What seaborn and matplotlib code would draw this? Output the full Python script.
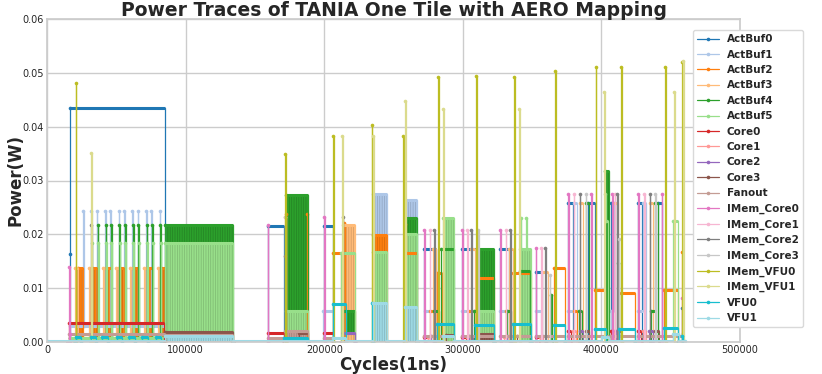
import numpy as np
import pandas as pd
import matplotlib
matplotlib.use("Agg")
import matplotlib.pyplot as plt
import seaborn as sns

# ---------------- data (cycle, power) change points, step-post ----------------
series_names = ["ActBuf0", "ActBuf1", "ActBuf2", "ActBuf3", "ActBuf4", "ActBuf5",
                "Core0", "Core1", "Core2", "Core3", "Fanout",
                "IMem_Core0", "IMem_Core1", "IMem_Core2", "IMem_Core3",
                "IMem_VFU0", "IMem_VFU1", "VFU0", "VFU1"]

actbuf0_trace = [(15300, 0), (16300, 0.0164), (16900, 0.0434), (85200, 0),
                 (159200, 0.0216), (171200, 0), (200100, 0.0216), (206600, 0),
                 (272300, 0.0173), (280800, 0), (299500, 0.0173), (309700, 0),
                 (326500, 0.0173), (333000, 0), (352500, 0.0130), (357000, 0),
                 (375900, 0.0259), (379500, 0), (390500, 0.0259), (395200, 0),
                 (407200, 0.0259), (410000, 0), (426500, 0.0259), (429500, 0),
                 (440500, 0.0259), (444000, 0), (458300, 0.0064), (458800, 0)]
actbuf0_blocks = []

actbuf1_trace = [(15800, 0), (16300, 0.0029), (26200, 0.0243), (26700, 0.0029),
                 (32000, 0.0243), (32500, 0.0029), (35800, 0.0243), (36300, 0.0029),
                 (41800, 0.0243), (42300, 0.0029), (45700, 0.0243), (46200, 0.0029),
                 (51700, 0.0243), (52200, 0.0029), (55600, 0.0243), (56100, 0.0029),
                 (61600, 0.0243), (62100, 0.0029), (65500, 0.0243), (66000, 0.0029),
                 (71500, 0.0243), (72000, 0.0029), (75300, 0.0243), (75800, 0.0029),
                 (81300, 0.0243), (81800, 0.0029), (85200, 0),
                 (199400, 0.0058), (206600, 0), (235000, 0.0275), (245400, 0),
                 (258600, 0.0263), (266800, 0), (272800, 0.0058), (278300, 0),
                 (299500, 0.0057), (303600, 0), (326500, 0.0057), (331500, 0),
                 (352500, 0.0057), (356600, 0), (375900, 0.0057), (380000, 0.0259),
                 (382500, 0), (407200, 0.0057), (409000, 0.0259), (411000, 0),
                 (426500, 0.0057), (430000, 0.0259), (432500, 0)]
actbuf1_blocks = [(235000, 245400, 0.0, 0.0275), (258600, 266800, 0.0, 0.0263)]

actbuf2_trace = [(20000, 0), (22300, 0.0137), (26200, 0.0008), (32700, 0.0137), (36300, 0.0008),
                 (42300, 0.0137), (45900, 0.0008), (52200, 0.0137), (55800, 0.0008),
                 (62100, 0.0137), (65700, 0.0008), (72000, 0.0137), (75600, 0.0008),
                 (81900, 0.0137), (85200, 0),
                 (172200, 0.0238), (172700, 0), (187500, 0.0238), (188000, 0),
                 (206000, 0.0165), (212000, 0), (214500, 0.0221), (215000, 0),
                 (235000, 0.0198), (245400, 0), (258600, 0.0220), (259300, 0.0165), (266800, 0),
                 (276000, 0.0058), (279000, 0), (281200, 0.0128), (285100, 0),
                 (303600, 0.0057), (306000, 0), (310800, 0.0119), (322400, 0),
                 (331500, 0.0057), (334000, 0), (336100, 0.0128), (349400, 0),
                 (365800, 0.0137), (374000, 0), (380000, 0.0057), (382500, 0),
                 (395200, 0.0096), (402400, 0), (414400, 0.0091), (424000, 0),
                 (445200, 0.0096), (455400, 0), (458300, 0.0168), (458800, 0)]
actbuf2_blocks = [(22300, 26200, 0.0008, 0.0137), (32700, 36300, 0.0008, 0.0137),
                  (42300, 45900, 0.0008, 0.0137), (52200, 55800, 0.0008, 0.0137),
                  (62100, 65700, 0.0008, 0.0137), (72000, 75600, 0.0008, 0.0137),
                  (81900, 85200, 0.0008, 0.0137), (235000, 245400, 0.0, 0.0198)]

actbuf3_trace = [(20000, 0), (20400, 0.0137), (22300, 0.0008), (30300, 0.0137), (32700, 0.0008),
                 (40200, 0.0137), (42300, 0.0008), (50100, 0.0137), (52200, 0.0008),
                 (60000, 0.0137), (62100, 0.0008), (69900, 0.0137), (72000, 0.0008),
                 (79800, 0.0137), (81900, 0.0008), (85200, 0),
                 (171600, 0.0233), (172100, 0), (213300, 0.0218), (222500, 0),
                 (278300, 0.0173), (281000, 0), (306000, 0.0173), (309000, 0),
                 (333000, 0.0173), (336000, 0), (357000, 0.0130), (361500, 0),
                 (384300, 0.0259), (386500, 0), (410000, 0.0259), (412000, 0),
                 (434900, 0.0259), (437000, 0)]
actbuf3_blocks = [(20400, 22300, 0.0008, 0.0137), (30300, 32700, 0.0008, 0.0137),
                  (40200, 42300, 0.0008, 0.0137), (50100, 52200, 0.0008, 0.0137),
                  (60000, 62100, 0.0008, 0.0137), (69900, 72000, 0.0008, 0.0137),
                  (79800, 81900, 0.0008, 0.0137), (213300, 222500, 0.0, 0.0218)]

actbuf4_trace = [(16000, 0), (16300, 0.0008), (36500, 0.0217), (37000, 0.0008),
                 (42300, 0.0217), (42800, 0.0008), (46200, 0.0217), (46700, 0.0008),
                 (52200, 0.0217), (52700, 0.0008), (56300, 0.0217), (56800, 0.0008),
                 (62100, 0.0217), (62600, 0.0008), (66000, 0.0217), (66500, 0.0008),
                 (72000, 0.0217), (72500, 0.0008), (76000, 0.0217), (76500, 0.0008),
                 (81800, 0.0217), (82300, 0.0008), (85200, 0.0217), (133900, 0),
                 (172300, 0.0273), (188000, 0), (213300, 0.0058), (222500, 0),
                 (258600, 0.0230), (266800, 0), (279000, 0.0058), (283000, 0),
                 (284000, 0.0173), (293500, 0), (308000, 0.0057), (310800, 0.0173),
                 (322400, 0), (332000, 0.0057), (335000, 0), (341500, 0.0132), (348500, 0),
                 (363500, 0.0087), (364000, 0), (384000, 0.0057), (386000, 0),
                 (388700, 0.0259), (391000, 0), (402400, 0.0317), (405300, 0),
                 (412000, 0.0147), (412500, 0), (436000, 0.0057), (439000, 0.0259), (441000, 0)]
actbuf4_blocks = [(85200, 133900, 0.0019, 0.0217), (172300, 188000, 0.0055, 0.0273),
                  (213300, 222500, 0.0015, 0.0058), (258600, 266800, 0.0, 0.0230),
                  (310800, 322400, 0.0015, 0.0173), (341500, 348500, 0.0, 0.0132),
                  (402400, 405300, 0.0, 0.0317)]

actbuf5_trace = [(16000, 0), (16300, 0.0008), (32200, 0.0183), (32700, 0.0008),
                 (36700, 0.0183), (37200, 0.0008), (42500, 0.0183), (43000, 0.0008),
                 (46400, 0.0183), (46900, 0.0008), (52400, 0.0183), (52900, 0.0008),
                 (56500, 0.0183), (57000, 0.0008), (62300, 0.0183), (62800, 0.0008),
                 (66200, 0.0183), (66700, 0.0008), (72200, 0.0183), (72700, 0.0008),
                 (76200, 0.0183), (76700, 0.0008), (82000, 0.0183), (82500, 0.0008),
                 (85200, 0.0183), (133900, 0), (172300, 0.0058), (188000, 0),
                 (212000, 0.0165), (222500, 0), (235000, 0.0167), (245400, 0),
                 (258600, 0.0201), (266800, 0), (285600, 0.0231), (293500, 0),
                 (310800, 0.0057), (322400, 0), (341000, 0.0173), (341800, 0.0231),
                 (342300, 0.0173), (345800, 0.0231), (346300, 0.0173), (349400, 0),
                 (402600, 0.0275), (403100, 0.0224), (405000, 0), (451700, 0.0224), (455400, 0)]
actbuf5_blocks = [(85200, 133900, 0.0019, 0.0183), (172300, 188000, 0.0008, 0.0058),
                  (235000, 245400, 0.0, 0.0167), (258600, 266800, 0.0, 0.0201),
                  (285600, 293500, 0.0, 0.0231), (310800, 322400, 0.0, 0.0057),
                  (341000, 349400, 0.0, 0.0173)]

core0_trace = [(15300, 0), (15800, 0.0035), (84500, 0), (159200, 0.0017), (171200, 0),
               (200100, 0.0017), (206000, 0), (272300, 0.0010), (275000, 0),
               (299500, 0.0010), (302000, 0), (352500, 0.0010), (356000, 0),
               (375900, 0.0020), (378000, 0), (407200, 0.0020), (409000, 0),
               (426500, 0.0020), (428500, 0)]
core0_blocks = []

core1_trace = [(274000, 0), (274900, 0.0010), (277000, 0), (302900, 0.0010), (305000, 0),
               (330000, 0.0010), (332000, 0), (355700, 0.0010), (358000, 0),
               (379500, 0.0020), (382000, 0), (409000, 0.0020), (411000, 0),
               (430000, 0.0020), (432000, 0)]
core1_blocks = []

core2_trace = [(212800, 0), (213300, 0.0017), (222500, 0), (277000, 0.0012), (279500, 0),
               (304500, 0.0012), (307000, 0), (332000, 0.0012), (334500, 0),
               (357500, 0.0012), (360000, 0), (384300, 0.0020), (386500, 0),
               (410500, 0.0020), (412500, 0), (434500, 0.0020), (437000, 0)]
core2_blocks = []

core3_trace = [(84700, 0), (85200, 0.0019), (133900, 0), (182000, 0.0017), (188000, 0),
               (288000, 0.0013), (294000, 0), (310800, 0.0015), (322400, 0),
               (339000, 0.0012), (349400, 0), (388700, 0.0020), (391000, 0),
               (412000, 0.0020), (414000, 0), (439000, 0.0020), (441500, 0)]
core3_blocks = [(310800, 322400, 0.0, 0.0015)]

fanout_trace = [(15300, 0), (15800, 0.0015), (85200, 0.0013), (133900, 0),
                (159200, 0.0007), (172000, 0.0021), (188000, 0), (200100, 0.0007), (215000, 0),
                (272300, 0.0012), (294000, 0), (299500, 0.0012), (322400, 0),
                (326500, 0.0012), (349400, 0), (352500, 0.0012), (374000, 0),
                (375900, 0.0012), (405300, 0), (407200, 0.0012), (424000, 0),
                (426500, 0.0012), (458800, 0)]
fanout_blocks = [(172000, 188000, 0.0, 0.0021)]

imem_core0_trace = [(15300, 0), (15800, 0.0139), (16300, 0.0015), (16800, 0),
                    (159100, 0.0217), (159600, 0), (200100, 0.0233), (200600, 0),
                    (272300, 0.0208), (272800, 0), (299500, 0.0208), (300000, 0),
                    (326800, 0.0208), (327300, 0), (352500, 0.0175), (353000, 0),
                    (375900, 0.0275), (376400, 0), (392800, 0.0275), (393300, 0),
                    (407700, 0.0275), (408200, 0), (426500, 0.0275), (427000, 0),
                    (443400, 0.0275), (443900, 0), (458500, 0.0082), (459000, 0)]
imem_core0_blocks = []

imem_core1_trace = [(275500, 0), (276000, 0.0208), (276500, 0), (303000, 0.0208), (303500, 0),
                    (330900, 0.0208), (331400, 0), (356600, 0.0175), (357100, 0),
                    (380000, 0.0275), (380500, 0), (409600, 0.0275), (410100, 0),
                    (430600, 0.0275), (431100, 0)]
imem_core1_blocks = []

imem_core2_trace = [(31500, 0), (32000, 0.0217), (32500, 0), (172000, 0.0159), (172500, 0),
                    (213300, 0.0233), (213800, 0), (279100, 0.0208), (279600, 0),
                    (306100, 0.0208), (306600, 0), (334200, 0.0208), (334700, 0),
                    (359500, 0.0175), (360000, 0), (384300, 0.0275), (384800, 0),
                    (411300, 0.0275), (411800, 0), (434900, 0.0275), (435400, 0)]
imem_core2_blocks = []

imem_core3_trace = [(171500, 0), (172000, 0.0233), (172500, 0), (311100, 0.0208), (311600, 0),
                    (362600, 0.0125), (363100, 0), (388700, 0.0275), (389200, 0),
                    (412500, 0.0192), (413000, 0), (439000, 0.0275), (439500, 0),
                    (458500, 0.0015), (459000, 0)]
imem_core3_blocks = []

imem_vfu0_trace = [(20200, 0), (20700, 0.0482), (21200, 0), (171700, 0.0349), (172200, 0),
                   (206600, 0.0382), (207100, 0), (234300, 0.0404), (234800, 0),
                   (257200, 0.0382), (257700, 0), (282200, 0.0493), (282700, 0),
                   (309700, 0.0495), (310200, 0), (337100, 0.0492), (337600, 0),
                   (366800, 0.0503), (367300, 0), (395900, 0.0510), (396400, 0),
                   (414400, 0.0510), (414900, 0), (446200, 0.0510), (446700, 0),
                   (458500, 0.0520), (459000, 0)]
imem_vfu0_blocks = []

imem_vfu1_trace = [(31500, 0), (32000, 0.0351), (32500, 0), (212800, 0.0382), (213300, 0),
                   (235400, 0.0382), (235900, 0), (258400, 0.0448), (258900, 0),
                   (285600, 0.0433), (286100, 0), (340500, 0.0433), (341000, 0),
                   (401900, 0.0464), (402400, 0), (452500, 0.0464), (453000, 0),
                   (459000, 0.0522), (459500, 0)]
imem_vfu1_blocks = []

vfu0_trace = [(20200, 0), (20700, 0.0009), (24300, 0), (31500, 0.0009), (35100, 0),
              (39900, 0.0009), (44000, 0), (50300, 0.0009), (53900, 0),
              (59200, 0.0009), (63300, 0), (68800, 0.0009), (72900, 0),
              (78500, 0.0009), (82100, 0), (171200, 0.0008), (188000, 0),
              (206000, 0.0070), (215700, 0), (234500, 0.0072), (235000, 0),
              (281200, 0.0034), (293500, 0), (308500, 0.0032), (322400, 0),
              (336100, 0.0034), (349400, 0), (365800, 0.0032), (374000, 0),
              (395200, 0.0025), (403000, 0), (413000, 0.0025), (424000, 0),
              (445200, 0.0026), (455400, 0), (458500, 0.0012), (459000, 0)]
vfu0_blocks = []

vfu1_trace = [(0, 0.0002), (85200, 0.0012), (133900, 0.0002), (206000, 0.0007), (215700, 0.0002),
              (235000, 0.0072), (245400, 0.0002), (258000, 0.0065), (266800, 0.0002),
              (285600, 0.0012), (293500, 0.0002), (400500, 0.0010), (405300, 0.0002),
              (452000, 0.0015), (456000, 0.0002), (460000, 0.0002)]
vfu1_blocks = [(85200, 133900, 0.0002, 0.0012), (235000, 245400, 0.0, 0.0072),
               (258000, 266800, 0.0, 0.0065)]

x_ticks = [0, 100000, 200000, 300000, 400000, 500000]
y_ticks = [0.00, 0.01, 0.02, 0.03, 0.04, 0.05, 0.06]

traces = [actbuf0_trace, actbuf1_trace, actbuf2_trace, actbuf3_trace, actbuf4_trace,
          actbuf5_trace, core0_trace, core1_trace, core2_trace, core3_trace, fanout_trace,
          imem_core0_trace, imem_core1_trace, imem_core2_trace, imem_core3_trace,
          imem_vfu0_trace, imem_vfu1_trace, vfu0_trace, vfu1_trace]
blocks_all = [actbuf0_blocks, actbuf1_blocks, actbuf2_blocks, actbuf3_blocks, actbuf4_blocks,
              actbuf5_blocks, core0_blocks, core1_blocks, core2_blocks, core3_blocks,
              fanout_blocks, imem_core0_blocks, imem_core1_blocks, imem_core2_blocks,
              imem_core3_blocks, imem_vfu0_blocks, imem_vfu1_blocks, vfu0_blocks, vfu1_blocks]

# ---------------- plotting ----------------
sns.set_theme(style="whitegrid")
plt.rcParams["font.family"] = ["DejaVu Sans"]
plt.rcParams["hatch.linewidth"] = 0.5

tab20 = sns.color_palette("tab20", 20)
colors = [tab20[i] for i in [0, 1, 2, 3, 4, 5, 6, 7, 8, 10, 11, 12, 13, 14, 15, 16, 17, 18, 19]]

fig = plt.figure(figsize=(8.22, 3.74), dpi=100)
ax = fig.add_axes([47 / 822, 1 - 342 / 374, (740 - 47) / 822, (342 - 19) / 374])

for i, (name, trace, blocks) in enumerate(zip(series_names, traces, blocks_all)):
    color = colors[i]
    dark = tuple(np.array(color) * 0.82)
    df = pd.DataFrame(trace, columns=["cycle", "power"])
    for (s, e, lo, hi) in blocks:
        ax.fill_between([s, e], lo, hi, facecolor=color, edgecolor=dark, hatch="|" * 7,
                        linewidth=0, zorder=1 + i * 0.01)
    z = 2 + i * 0.01
    sns.lineplot(data=df, x="cycle", y="power", ax=ax, color=color, label=name,
                 drawstyle="steps-post", marker="o", markersize=2.6,
                 markeredgewidth=0, linewidth=0.9, estimator=None, sort=False, zorder=z)
    xs = df["cycle"].to_numpy()
    ys = df["power"].to_numpy()
    seg = (ys[:-1] > 0) & (np.diff(xs) > 1000)
    ax.hlines(ys[:-1][seg], xs[:-1][seg], xs[1:][seg], color=color, linewidth=2.2, zorder=z)

ax.set_xlim(0, 500000)
ax.set_ylim(0, 0.06)
ax.set_xticks(x_ticks)
ax.set_xticklabels([str(v) for v in x_ticks])
ax.set_yticks(y_ticks)
ax.set_yticklabels([f"{v:.2f}" for v in y_ticks])
ax.tick_params(axis="both", which="major", labelsize=7, pad=2, length=0)
ax.set_xlabel("Cycles(1ns)", fontsize=12, fontweight="bold", labelpad=1)
ax.set_ylabel("Power(W)", fontsize=12, fontweight="bold", labelpad=-1)
ax.set_title("Power Traces of TANIA One Tile with AERO Mapping", fontsize=13.5,
             fontweight="bold", pad=2)

leg = ax.legend(loc="upper left", bbox_to_anchor=(0.932, 0.966), borderaxespad=0,
                prop={"weight": "bold", "size": 7.5}, labelspacing=0.52,
                handlelength=2.1, handletextpad=0.75,
                frameon=True, framealpha=1, facecolor="white", edgecolor="0.85")
leg.set_zorder(10)

fig.savefig("out.png", dpi=100)
